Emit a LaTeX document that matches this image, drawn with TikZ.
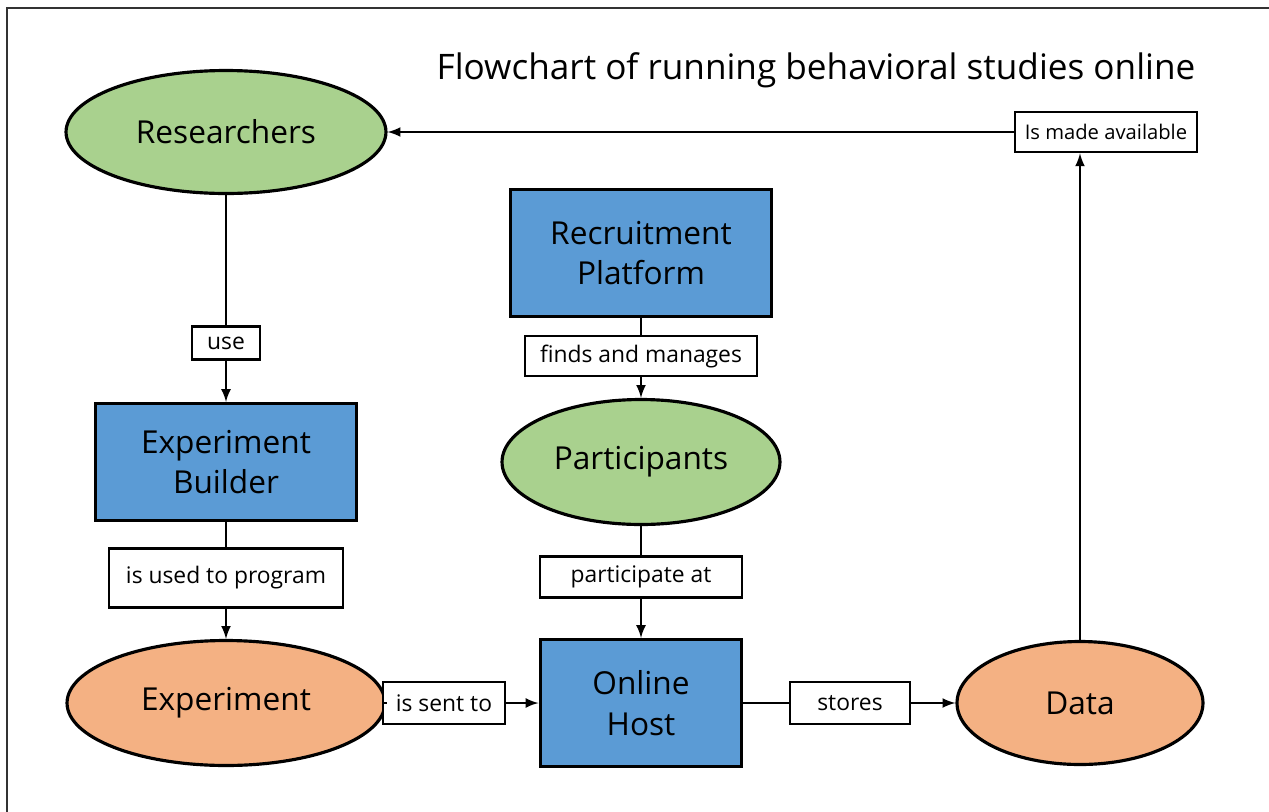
\documentclass[tikz,border=0pt]{standalone}
\usepackage{fontspec}
\setmainfont{Open Sans}
\usepackage{tikz}
\usetikzlibrary{arrows,shapes.geometric}
\definecolor{fc_blue}{RGB}{91, 155, 213}
\definecolor{fc_green}{RGB}{169, 209, 142}
\definecolor{fc_orange}{RGB}{244, 177, 131}
\tikzstyle{gn}=[ellipse,fill=fc_green,draw=black,line width=1.8pt,
  inner sep=0pt,font=\fontsize{18}{22}\selectfont]
\tikzstyle{on}=[ellipse,fill=fc_orange,draw=black,line width=1.8pt,
  inner sep=0pt,font=\fontsize{18}{22}\selectfont]
\tikzstyle{bn}=[rectangle,fill=fc_blue,draw=black,line width=1.7pt,
  inner sep=0pt,align=center,font=\fontsize{18}{23}\selectfont]
\tikzstyle{lbl}=[rectangle,fill=white,draw=black,line width=1.5pt,
  inner sep=0pt,font=\fontsize{13}{15}\selectfont]
\tikzstyle{edge}=[line width=1.5pt]

\begin{document}
\begin{tikzpicture}[x=0.02cm,y=-0.02cm,>=latex]
            \useasboundingbox (0,0) rectangle (1269,812);
            \draw [line width=0.8pt, black!80] (7,812) -- (7,8) -- (1269,8);
            \node (title) at (816,70) {\fontsize{20}{24}\selectfont Flowchart of running behavioral studies online};
            \node [style=gn, minimum width=6.4cm, minimum height=2.46cm] (res) at (226,132) {Researchers};
            \node [style=lbl, minimum width=3.64cm, minimum height=0.8cm, font=\fontsize{11.5}{14}\selectfont] (made) at (1106,132) {Is made available};
            \node [style=lbl, minimum width=1.36cm, minimum height=0.66cm] (use) at (226,343) {use};
            \node [style=bn, minimum width=5.22cm, minimum height=2.34cm] (eb) at (226,462) {Experiment\\Builder};
            \node [style=lbl, minimum width=4.68cm, minimum height=1.18cm] (prog) at (226,578) {is used to program};
            \node [style=on, minimum width=6.36cm, minimum height=2.5cm] (exp) at (226,703) {Experiment};
            \node [style=lbl, minimum width=2.44cm, minimum height=0.84cm] (sent) at (444,703) {is sent to};
            \node [style=bn, minimum width=4.04cm, minimum height=2.54cm] (host) at (641,703) {Online\\Host};
            \node [style=lbl, minimum width=2.4cm, minimum height=0.84cm] (stores) at (850,703) {stores};
            \node [style=on, minimum width=4.92cm, minimum height=2.46cm] (data) at (1080,703) {Data};
            \node [style=bn, minimum width=5.22cm, minimum height=2.54cm] (rp) at (641,253) {Recruitment\\Platform};
            \node [style=lbl, minimum width=4.64cm, minimum height=0.8cm] (fm) at (641,356) {finds and manages};
            \node [style=gn, minimum width=5.56cm, minimum height=2.5cm] (part) at (641,462) {Participants};
            \node [style=lbl, minimum width=4.04cm, minimum height=0.82cm] (pa) at (641,577) {participate at};
            \draw [style=edge] (res) to (use);
            \draw [style=edge, ->] (use) to (eb);
            \draw [style=edge] (eb) to (prog);
            \draw [style=edge, ->] (prog) to (exp);
            \draw [style=edge] (exp) to (sent);
            \draw [style=edge, ->] (sent) to (host);
            \draw [style=edge] (host) to (stores);
            \draw [style=edge, ->] (stores) to (data);
            \draw [style=edge] (rp) to (fm);
            \draw [style=edge, ->] (fm) to (part);
            \draw [style=edge] (part) to (pa);
            \draw [style=edge, ->] (pa) to (host);
            \draw [style=edge, ->] (data) to (data |- made.south);
            \draw [style=edge, ->] (made) to (res);
    \end{tikzpicture}
\end{document}
